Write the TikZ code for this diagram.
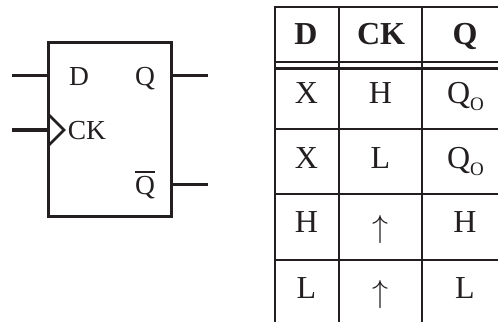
\documentclass[tikz,border=0pt]{standalone}
\usepackage{fontspec}
\setmainfont{Liberation Serif}
\definecolor{ink}{HTML}{231F20}
\tikzset{
  pinline/.style={draw=ink,line width=3pt},
  clockline/.style={draw=ink,line width=4.2pt},
  boxline/.style={draw=ink,line width=2.5pt},
  rule/.style={draw=ink,line width=2.2pt},
  lbl/.style={anchor=base,inner sep=0pt,text=ink,font=\fontsize{27.5}{27.5}\selectfont},
  cell/.style={anchor=base,inner sep=0pt,text=ink,font=\fontsize{32}{32}\selectfont},
  head/.style={anchor=base,inner sep=0pt,text=ink,font=\fontsize{32}{32}\selectfont\bfseries},
  arrowcell/.style={anchor=base,inner sep=0pt,text=ink,font=\normalsize}
}
\newcommand{\uparrowcell}{\scalebox{3.2}{$\uparrow$}}
\newcommand{\subo}{\raisebox{-7pt}{\fontsize{19}{19}\selectfont O}}
\begin{document}
\begin{tikzpicture}[x=1pt,y=-1pt]
\useasboundingbox (0,0) rectangle (498,322);
% flip-flop
\node[boxline,draw,outer sep=0pt,minimum width=123pt,minimum height=174pt,inner sep=0pt,anchor=north west] (ff) at (48.7,42.7) {};
\coordinate (dl) at (12,75); \coordinate (dr) at (49,75);
\coordinate (cl) at (12,130); \coordinate (cr) at (49,130);
\coordinate (ql) at (172,75); \coordinate (qr) at (208,75);
\coordinate (nl) at (172,184); \coordinate (nr) at (208,184);
\draw[pinline] (dl) -- (dr);
\draw[clockline] (cl) -- (cr);
\draw[pinline] (ql) -- (qr);
\draw[pinline] (nl) -- (nr);
\coordinate (t1) at (49,115); \coordinate (t2) at (64,130); \coordinate (t3) at (49,145);
\draw[boxline] (t1) -- (t2) -- (t3);
\node[lbl] (ld) at (79,85) {D};
\node[lbl] (lq) at (145,85) {Q};
\node[lbl] (lc) at (87,139) {CK};
\node[lbl] (ln) at (145,194) {Q};
\coordinate (b1) at (135,172); \coordinate (b2) at (155,172);
\draw[draw=ink,line width=1.8pt] (b1) -- (b2);
% table
\coordinate (h0l) at (275,7);  \coordinate (h0r) at (498,7);
\coordinate (h1l) at (275,62); \coordinate (h1r) at (498,62);
\coordinate (h2l) at (275,68.5); \coordinate (h2r) at (498,68.5);
\coordinate (h3l) at (275,129);\coordinate (h3r) at (498,129);
\coordinate (h4l) at (275,194);\coordinate (h4r) at (498,194);
\coordinate (h5l) at (275,260);\coordinate (h5r) at (498,260);
\foreach \n in {0,...,5} \draw[rule] (h\n l) -- (h\n r);
\coordinate (v1t) at (275,6);  \coordinate (v1b) at (275,322);
\coordinate (v2t) at (339,6);  \coordinate (v2b) at (339,322);
\coordinate (v3t) at (422,6);  \coordinate (v3b) at (422,322);
\foreach \n in {1,2,3} \draw[rule] (v\n t) -- (v\n b);
\node[head] (a1) at (306,44) {D};
\node[head] (a2) at (381,44) {CK};
\node[head] (a3) at (465,44) {Q};
\node[cell] (b1x) at (306.5,103) {X};
\node[cell] (b2x) at (380.5,103) {H};
\node[cell] (b3x) at (465.5,103) {Q\subo};
\node[cell] (c1x) at (306.5,168) {X};
\node[cell] (c2x) at (380.5,168) {L};
\node[cell] (c3x) at (465.5,168) {Q\subo};
\node[cell] (d1x) at (306.5,232) {H};
\node[arrowcell] (d2x) at (380,237.5) {\uparrowcell};
\node[cell] (d3x) at (465,232) {H};
\node[cell] (e1x) at (306.5,298) {L};
\node[arrowcell] (e2x) at (380,302.5) {\uparrowcell};
\node[cell] (e3x) at (465,298) {L};
\end{tikzpicture}
\end{document}
